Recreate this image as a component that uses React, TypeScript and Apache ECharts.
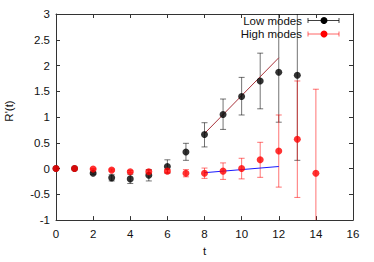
import React, { useEffect, useRef } from "react";
import * as echarts from "echarts";

const seriesNames = ["Low modes", "High modes"];
const lowT = [0, 1, 2, 3, 4, 5, 6, 7, 8, 9, 10, 11, 12, 13];
const lowVal = [0, 0, -0.09, -0.18, -0.2, -0.13, 0.04, 0.32, 0.66, 1.05, 1.4, 1.7, 1.87, 1.81];
const lowLo = [0, 0, -0.11, -0.24, -0.29, -0.24, -0.09, 0.16, 0.42, 0.76, 1.04, 1.16, 0.9, 0.16];
const lowHi = [0, 0, -0.07, -0.12, -0.11, -0.02, 0.17, 0.49, 0.89, 1.35, 1.77, 2.24, 3.4, 3.6];

const highT = [0, 1, 2, 3, 4, 5, 6, 7, 8, 9, 10, 11, 12, 13, 14];
const highVal = [0, 0, -0.01, -0.03, -0.06, -0.06, -0.05, -0.09, -0.09, -0.05, 0.0, 0.17, 0.34, 0.57, -0.09];
const highErr = [0, 0, 0.01, 0.02, 0.02, 0.03, 0.03, 0.07, 0.1, 0.16, 0.2, 0.34, 0.7, 1.13, 1.63];

const fitLow = [[8, 0.68], [12, 2.15]];
const fitHigh = [[8, -0.08], [12, 0.04]];

const xTicks = { min: 0, max: 16, interval: 2 };
const yTicks = { min: -1, max: 3, interval: 0.5 };

const FONT = "'Liberation Sans', Arial, sans-serif";
const TXT = "#111";
const AX = "#333";

function errRender(color: string) {
  return (params: any, api: any) => {
    const x = api.value(0);
    const lo = api.value(1);
    const hi = api.value(2);
    if (Math.abs(hi - lo) < 1e-6) return { type: "group", children: [] };
    const cs = params.coordSys;
    const top = cs.y;
    const bottom = cs.y + cs.height;
    const pLo = api.coord([x, lo]);
    const pHi = api.coord([x, hi]);
    const px = pLo[0];
    const y1 = Math.max(pHi[1], top);
    const y2 = Math.min(pLo[1], bottom);
    const style = { stroke: color, lineWidth: 1 };
    const children: any[] = [
      { type: "line", shape: { x1: px, y1, x2: px, y2 }, style },
    ];
    const cw = 3;
    if (pHi[1] >= top) children.push({ type: "line", shape: { x1: px - cw, y1: pHi[1], x2: px + cw, y2: pHi[1] }, style });
    if (pLo[1] <= bottom) children.push({ type: "line", shape: { x1: px - cw, y1: pLo[1], x2: px + cw, y2: pLo[1] }, style });
    return { type: "group", children };
  };
}

function legendItem(name: string, y: number, color: string, barColor: string) {
  const x1 = 308, x2 = 339, xm = 324;
  return [
    { type: "text", x: 302, y, style: { text: name, font: `11.5px ${FONT}`, fill: TXT, align: "right", verticalAlign: "middle" } },
    { type: "line", shape: { x1, y1: y, x2, y2: y }, style: { stroke: barColor, lineWidth: 1 } },
    { type: "line", shape: { x1, y1: y - 2.5, x2: x1, y2: y + 2.5 }, style: { stroke: barColor, lineWidth: 1 } },
    { type: "line", shape: { x1: x2, y1: y - 2.5, x2: x2, y2: y + 2.5 }, style: { stroke: barColor, lineWidth: 1 } },
    { type: "circle", shape: { cx: xm, cy: y, r: 3.5 }, style: { fill: color } },
  ];
}

export default function App() {
  const ref = useRef<HTMLDivElement>(null);
  useEffect(() => {
    const chart = echarts.init(ref.current!, undefined, { renderer: "svg" });
    const axisCommon = {
      axisLine: { show: true, onZero: false, lineStyle: { color: AX, width: 1 } },
      axisTick: { show: true, inside: true, length: 4, lineStyle: { color: AX } },
      splitLine: { show: false },
    };
    chart.setOption({
      animation: false,
      grid: { left: 56, right: 21, top: 14, bottom: 37 },
      xAxis: [
        {
          type: "value", ...xTicks, position: "bottom", ...axisCommon,
          axisLabel: { color: TXT, fontSize: 11.5, fontFamily: FONT, margin: 8 },
          name: "t", nameLocation: "middle", nameGap: 21,
          nameTextStyle: { color: TXT, fontSize: 11.5, fontFamily: FONT },
        },
        { type: "value", ...xTicks, position: "top", ...axisCommon, axisLabel: { show: false } },
      ],
      yAxis: [
        {
          type: "value", ...yTicks, position: "left", ...axisCommon,
          axisLabel: { color: TXT, fontSize: 11.5, fontFamily: FONT, margin: 6 },
        },
        { type: "value", ...yTicks, position: "right", ...axisCommon, axisLabel: { show: false } },
      ],
      graphic: [
        { type: "text", x: 9, y: 111, rotation: Math.PI / 2, style: { text: "R'(t)", font: `11.5px ${FONT}`, fill: TXT, align: "center", verticalAlign: "middle" } },
        ...legendItem(seriesNames[0], 20.5, "#000", "rgba(0,0,0,0.75)"),
        ...legendItem(seriesNames[1], 34, "#ff0000", "rgba(255,0,0,0.6)"),
      ],
      series: [
        {
          type: "custom", name: seriesNames[0] + " err",
          renderItem: errRender("rgba(0,0,0,0.55)"),
          data: lowT.map((t, i) => [t, lowLo[i], lowHi[i]]),
          encode: { x: 0, y: [1, 2] }, z: 2, silent: true,
        },
        {
          type: "custom", name: seriesNames[1] + " err",
          renderItem: errRender("rgba(255,0,0,0.55)"),
          data: highT.map((t, i) => [t, highVal[i] - highErr[i], highVal[i] + highErr[i]]),
          encode: { x: 0, y: [1, 2] }, z: 3, silent: true,
        },
        {
          type: "line", data: fitLow, symbol: "none", z: 4,
          lineStyle: { color: "#a8323a", width: 1 },
        },
        {
          type: "line", data: fitHigh, symbol: "none", z: 4,
          lineStyle: { color: "#1a1aff", width: 1 },
        },
        {
          type: "scatter", name: seriesNames[0], symbol: "circle", symbolSize: 7,
          itemStyle: { color: "#000" }, z: 5,
          data: lowT.map((t, i) => [t, lowVal[i]]),
        },
        {
          type: "scatter", name: seriesNames[1], symbol: "circle", symbolSize: 7,
          itemStyle: { color: "#ff0000" }, z: 6,
          data: highT.map((t, i) => [t, highVal[i]]),
        },
      ],
    });
    return () => chart.dispose();
  }, []);
  return <div ref={ref} style={{ width: 374, height: 262, position: "absolute", left: 0, top: 0 }} />;
}
